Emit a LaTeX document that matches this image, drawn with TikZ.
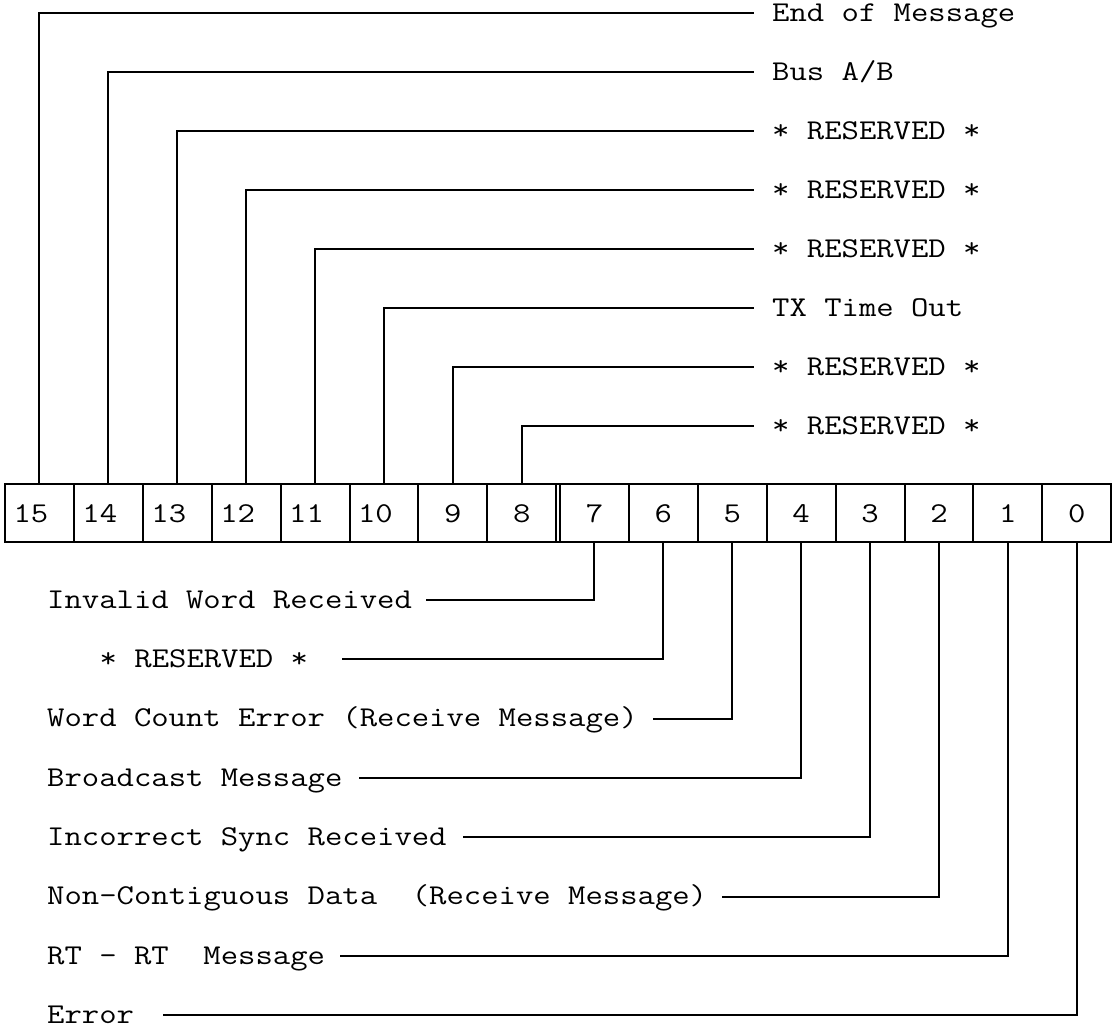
\documentclass[tikz,border=0pt]{standalone}
\usepackage{fontspec}
\newfontfamily\regmono{Latin Modern Mono}[FakeStretch=1.175]
\begin{document}
\begin{tikzpicture}[x=1pt,y=-1pt,
  wire/.style={line width=2pt},
  cellbox/.style={draw, line width=2pt, minimum width=68.9pt, minimum height=58.3pt, inner sep=0pt, outer sep=0pt},
  txt/.style={font=\regmono\fontsize{28.7}{34}\selectfont, inner sep=0pt, anchor=base west},
  num/.style={font=\regmono\fontsize{28.7}{34}\selectfont, inner sep=0pt}]
\useasboundingbox (0,0) rectangle (1112,1029);

% register cells
\foreach \b [count=\i from 0] in {15,14,13,12,11,10,9,8}
  \node[cellbox] (c\b) at ({5+68.9*(\i+0.5)},513.2) {};
\foreach \b [count=\i from 0] in {7,6,5,4,3,2,1,0}
  \node[cellbox] (c\b) at ({560+68.9*(\i+0.5)},513.2) {};
\draw[wire] (c15.north west) rectangle (c0.south east);

% bit numbers
\foreach \b in {15,14,13,12,11,10}
  \node[num] (n\b) at ([xshift=-8.5pt,yshift=-0.6pt]c\b.center) {\b};
\foreach \b in {9,8,7,6,5,4,3,2,1,0}
  \node[num] (n\b) at ([yshift=-0.6pt]c\b.center) {\b};

% upper labels
\node[txt] (l15) at (772,21.5) {End of Message};
\node[txt] (l14) at (772,80.5) {Bus A/B};
\node[txt] (l13) at (772,139.5) {* RESERVED *};
\node[txt] (l12) at (772,198.5) {* RESERVED *};
\node[txt] (l11) at (772,257.5) {* RESERVED *};
\node[txt] (l10) at (772,316.5) {TX Time Out};
\node[txt] (l9) at (772,375.5) {* RESERVED *};
\node[txt] (l8) at (772,434.5) {* RESERVED *};

\coordinate (e15) at (754,13.3);
\coordinate (e14) at (754,72.3);
\coordinate (e13) at (754,131.3);
\coordinate (e12) at (754,190.3);
\coordinate (e11) at (754,249.3);
\coordinate (e10) at (754,308.3);
\coordinate (e9) at (754,367.3);
\coordinate (e8) at (754,426.3);
\foreach \b in {15,14,13,12,11,10,9,8}
  \draw[wire] (c\b.north) |- (e\b);

% lower labels
\node[txt] (l7) at (47,608.2) {Invalid Word Received};
\node[txt] (l6) at (99.5,667.5) {* RESERVED *};
\node[txt] (l5) at (47,726.8) {Word Count Error (Receive Message)};
\node[txt] (l4) at (47,786.1) {Broadcast Message};
\node[txt] (l3) at (47,845.4) {Incorrect Sync Received};
\node[txt] (l2) at (47,904.7) {Non-Contiguous Data\ \ (Receive Message)};
\node[txt] (l1) at (47,964.0) {RT - RT\ \ Message};
\node[txt] (l0) at (47,1023.3) {Error};

\coordinate (e7) at (426,600);
\coordinate (e6) at (342,659.3);
\coordinate (e5) at (653,718.6);
\coordinate (e4) at (359,777.9);
\coordinate (e3) at (463,837.2);
\coordinate (e2) at (722,896.5);
\coordinate (e1) at (340,955.8);
\coordinate (e0) at (163,1015.1);
\foreach \b in {7,6,5,4,3,2,1,0}
  \draw[wire] (c\b.south) |- (e\b);
\end{tikzpicture}
\end{document}
